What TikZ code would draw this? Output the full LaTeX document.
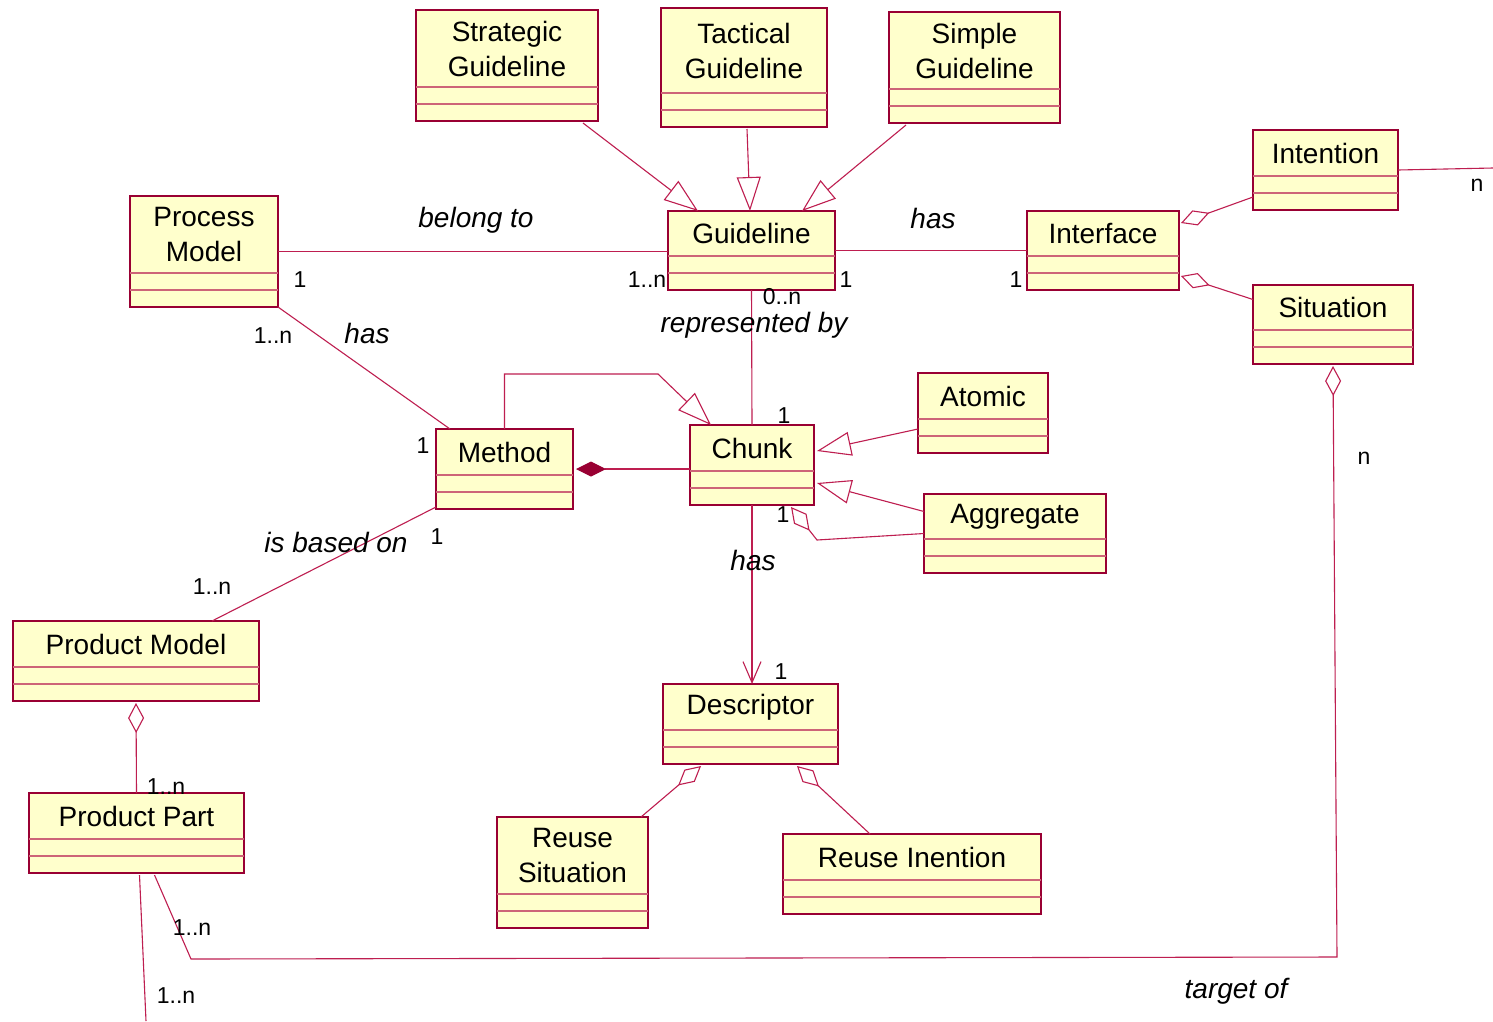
\documentclass[tikz,border=0pt]{standalone}
\usepackage{fontspec}
\setmainfont{Liberation Sans}
\usetikzlibrary{arrows.meta}
\usetikzlibrary{calc}
\definecolor{umlred}{RGB}{153,0,51}
\definecolor{umlline}{RGB}{190,30,80}
\definecolor{umlfill}{RGB}{255,255,204}
\definecolor{umlcomp}{RGB}{205,100,120}
\tikzset{
	classbox/.style={draw=umlred,fill=umlfill,line width=1.8pt,inner sep=0pt,outer sep=0pt},
	compline/.style={draw=umlcomp,line width=1.2pt},
	classname/.style={align=center,inner sep=0pt,font=\fontsize{28}{35}\selectfont},
	assoc/.style={draw=umlline,line width=1.1pt},
	mult/.style={inner sep=0pt,font=\fontsize{23}{26}\selectfont},
	role/.style={inner sep=0pt,font=\itshape\fontsize{28}{32}\selectfont},
	gen/.style={assoc,-{Triangle[open,length=34pt,width=24pt]}},
	aggreg/.style={assoc,-{Diamond[open,length=30pt,width=16pt]}},
	compos/.style={assoc,-{Diamond[length=30pt,width=15pt,fill=umlred,color=umlred]}},
	navig/.style={assoc,-{Straight Barb[length=21pt,width=18pt]}}
}
\newcommand{\umlclass}[6]{%
	\node[classbox,minimum width={(#4-#2)*1pt},minimum height={(#5-#3)*1pt}] (#1) at ({(#2+#4)/2},{(#3+#5)/2}) {};
	\draw[compline] ([yshift=17pt]#1.south west)--([yshift=17pt]#1.south east);
	\draw[compline] ([yshift=34pt]#1.south west)--([yshift=34pt]#1.south east);
	\node[classname] (#1-name) at ($(#1.north)!0.5!([yshift=34pt]#1.south)$) {#6};
}

\begin{document}
\begin{tikzpicture}[x=1pt,y=-1pt]
	\path[fill=white,use as bounding box] (0,0) rectangle (1493,1021);
	\umlclass{strat}{416}{10}{598}{121}{Strategic\\Guideline}
	\umlclass{tact}{661}{8}{827}{127}{Tactical\\Guideline}
	\umlclass{simple}{889}{12}{1060}{123}{Simple\\Guideline}
	\umlclass{guide}{668}{211}{835}{290}{Guideline}
	\umlclass{proc}{130}{196}{278}{307}{Process\\Model}
	\umlclass{interf}{1027}{211}{1179}{290}{Interface}
	\umlclass{intent}{1253}{130}{1398}{210}{Intention}
	\umlclass{situ}{1253}{285}{1413}{364}{Situation}
	\umlclass{method}{436}{429}{573}{509}{Method}
	\umlclass{chunk}{690}{425}{814}{505}{Chunk}
	\umlclass{atomic}{918}{373}{1048}{453}{Atomic}
	\umlclass{aggr}{924}{494}{1106}{573}{Aggregate}
	\umlclass{descr}{663}{684}{838}{764}{Descriptor}
	\umlclass{rsit}{497}{817}{648}{928}{Reuse\\Situation}
	\umlclass{rint}{783}{834}{1041}{914}{Reuse Inention}
	\umlclass{pmodel}{13}{621}{259}{701}{Product Model}
	\umlclass{ppart}{29}{793}{244}{873}{Product Part}
	\draw[gen] ([xshift=-15pt,yshift=-2pt]strat.south east)--([xshift=30pt]guide.north west);
	\draw[gen] ([xshift=86pt,yshift=-2pt]tact.south west)--([xshift=82pt]guide.north west);
	\draw[gen] ([xshift=17pt,yshift=-2pt]simple.south west)--([xshift=-33pt]guide.north east);
	\draw[assoc] (proc.east)--(proc.east-|guide.west);
	\draw[assoc] (guide.east)--(interf.west);
	\draw[assoc] (guide.south)--(chunk.north);
	\draw[assoc] (proc.south east)--([xshift=14pt]method.north west);
	\draw[gen] (method.north)|-([xshift=-32pt,yshift=51pt]chunk.north west)--([xshift=21pt]chunk.north west);
	\draw[compos] (chunk.west|-method.east)--([xshift=3pt]method.east);
	\draw[gen] ([yshift=-16pt]atomic.west)--([xshift=3pt,yshift=14pt]chunk.east);
	\draw[gen] ([yshift=22pt]aggr.west)--([xshift=3pt,yshift=-18pt]chunk.east);
	\draw[aggreg] (aggr.west)--([xshift=3pt,yshift=-35pt]chunk.south east)--([xshift=-23pt,yshift=-2pt]chunk.south east);
	\draw[navig] (chunk.south)--(chunk.south|-descr.north);
	\draw[aggreg] ([xshift=-7pt]rsit.north east)--([xshift=38pt,yshift=-2pt]descr.south west);
	\draw[aggreg] ([xshift=87pt]rint.north west)--([xshift=-41pt,yshift=-2pt]descr.south east);
	\draw[aggreg] (ppart.north)--([yshift=-2pt]pmodel.south);
	\draw[assoc] ([yshift=2pt]method.south west)--([xshift=199pt]pmodel.north west);
	\draw[aggreg] ([yshift=-27pt]intent.west)--([xshift=2pt,yshift=-12pt]interf.north east);
	\draw[aggreg] ([yshift=25pt]situ.west)--([xshift=2pt,yshift=14pt]interf.south east);
	\draw[aggreg] ([xshift=18pt,yshift=-2pt]ppart.south)--(191,959)--(1337,957)--([yshift=-2pt]situ.south);
	\coordinate (rightend) at (1493,168);
	\coordinate (bottomend) at (146,1021);
	\draw[assoc] (intent.east)--(rightend);
	\draw[assoc] ([xshift=3pt,yshift=-2pt]ppart.south)--(bottomend);
	\node[role] (belong) at (476,220) {belong to};
	\node[role] (has-guide) at (933,218) {has};
	\node[role] (repr) at (754,325) {represented by};
	\node[role] (has-proc) at (367,333) {has};
	\node[role] (based) at (336,542) {is based on};
	\node[role] (has-chunk) at (753,560) {has};
	\node[role] (target) at (1236,991) {target of};
	\node[mult] (m-proc) at (300,280) {1};
	\node[mult] (m-guide-l) at (647,280) {1..n};
	\node[mult] (m-guide-r) at (846,280) {1};
	\node[mult] (m-interf) at (1016,280) {1};
	\node[mult] (m-guide-b) at (782,297) {0..n};
	\node[mult] (m-chunk-t) at (784,416) {1};
	\node[mult] (m-proc-b) at (273,336) {1..n};
	\node[mult] (m-method-l) at (423,446) {1};
	\node[mult] (m-method-b) at (437,537) {1};
	\node[mult] (m-pmodel) at (212,587) {1..n};
	\node[mult] (m-chunk-b) at (783,515) {1};
	\node[mult] (m-descr) at (781,672) {1};
	\node[mult] (m-ppart-t) at (166,787) {1..n};
	\node[mult] (m-ppart-r) at (192,928) {1..n};
	\node[mult] (m-ppart-b) at (176,996) {1..n};
	\node[mult] (m-intent) at (1477,185) {n};
	\node[mult] (m-situ) at (1364,458) {n};
\end{tikzpicture}
\end{document}
